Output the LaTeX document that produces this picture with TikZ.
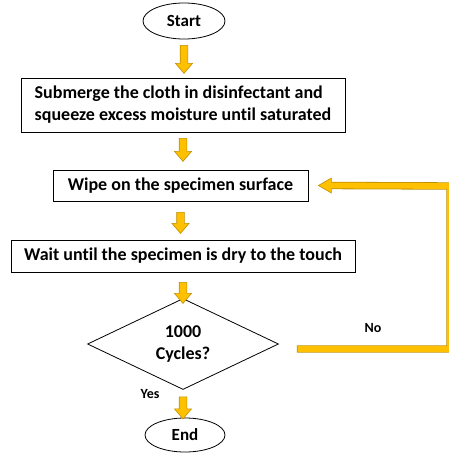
\documentclass[tikz,border=0pt]{standalone}
\usepackage{fontspec}
\setmainfont[Ligatures=NoCommon]{Carlito}
\usetikzlibrary{shapes.geometric}
\definecolor{gold}{HTML}{FFC000}
\definecolor{goldedge}{HTML}{C09000}
\tikzset{
  every node/.style={font=\bfseries\fontsize{18}{22}\selectfont, inner sep=0pt},
  term/.style={ellipse, draw, line width=0.8pt, minimum width=82pt, minimum height=36pt, font=\bfseries\fontsize{17}{20}\selectfont},
  proc/.style={rectangle, draw, line width=0.8pt},
  decis/.style={diamond, draw, line width=0.8pt, minimum width=191pt, minimum height=68pt, align=center},
  lbl/.style={font=\bfseries\fontsize{14}{16}\selectfont},
  pics/downarrow/.style={code={
    \filldraw[fill=gold, draw=goldedge, line width=0.6pt]
      (-3.8,0) -- (-3.8,#1-10) -- (-8.5,#1-10) -- (0,#1) -- (8.5,#1-10) -- (3.8,#1-10) -- (3.8,0) -- cycle;
  }}
}
\begin{document}
\begin{tikzpicture}[x=1pt,y=-1pt]
\useasboundingbox (0,0) rectangle (448,453);
\node[term] (start) at (184,21) {Start};
\node[proc, minimum width=324pt, minimum height=54pt, align=left] (sub) at (183,105)
  {Submerge the cloth in disinfectant and\\squeeze excess moisture until saturated};
\node[proc, minimum width=255pt, minimum height=31pt] (wipe) at (180.5,185.5) {Wipe on the specimen surface};
\node[proc, minimum width=344pt, minimum height=32pt] (wait) at (183,256) {Wait until the specimen is dry to the touch};
\node[decis] (dec) at (183,344) {1000\\Cycles?};
\node[term, minimum width=80pt, minimum height=34pt] (endn) at (185,435) {End};
\node[lbl] (no) at (373,328) {No};
\node[lbl] (yes) at (150,394) {Yes};
% block arrows
\pic at ([yshift=-6]start.south) {downarrow=28};
\pic at ([yshift=-6]sub.south) {downarrow=23};
\pic at ([yshift=-11]wipe.south) {downarrow=21};
\pic at ([yshift=-10]wait.south) {downarrow=21};
\pic at ([yshift=-7]dec.south) {downarrow=22};
% feedback loop
\coordinate (f0) at ([xshift=18,yshift=-5]dec.east);
\coordinate (f1) at (450,349);
\coordinate (f2) at (450,186);
\coordinate (tip) at ([xshift=10]wipe.east);
\coordinate (hb) at ([xshift=23]wipe.east);
\draw[goldedge, line width=7.4pt] (f0) -- (f1) -- (f2) -- (hb);
\draw[gold, line width=5.8pt] ([xshift=0.8]f0) -- (f1) -- (f2) -- ([xshift=-0.5]hb);
\filldraw[fill=gold, draw=goldedge, line width=0.6pt]
  ([yshift=-2.9]hb) -- ([yshift=-7.5]hb) -- (tip) -- ([yshift=7.5]hb) -- ([yshift=2.9]hb);
\end{tikzpicture}
\end{document}
